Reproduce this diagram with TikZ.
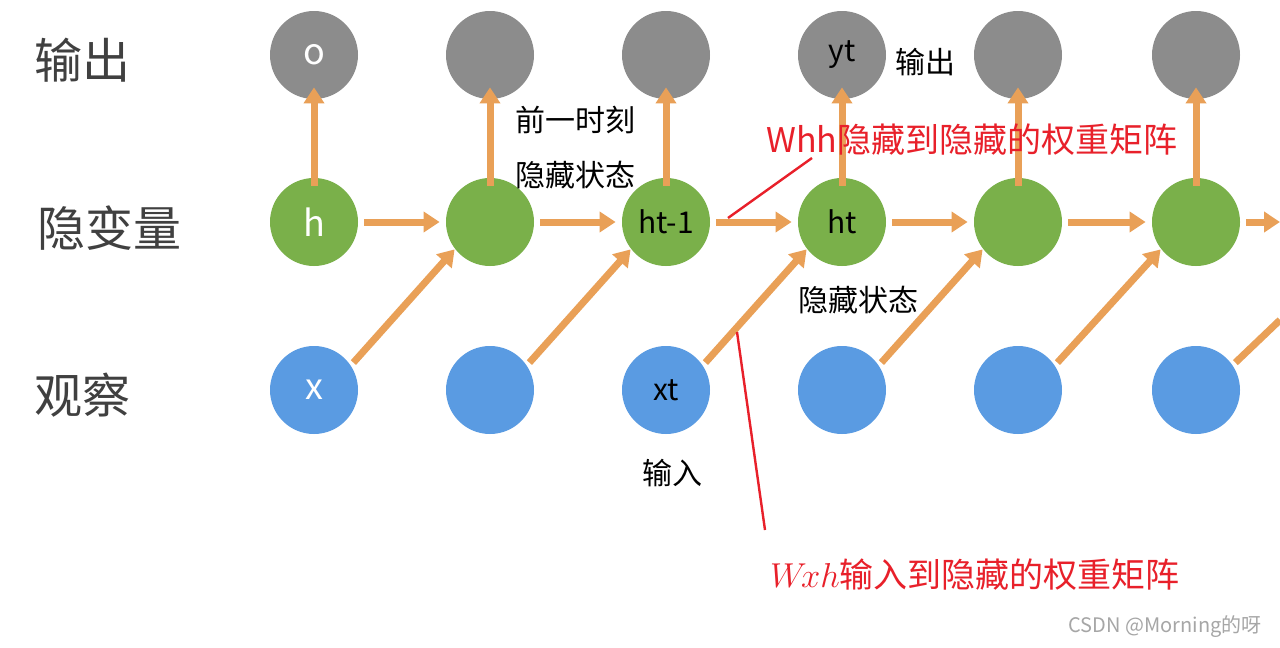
\documentclass[tikz,border=0pt]{standalone}
\usepackage{fontspec}
\setmainfont{Noto Sans CJK SC}
\usetikzlibrary{arrows.meta}
\definecolor{outgray}{HTML}{8C8C8C}
\definecolor{hidgreen}{HTML}{7AB04A}
\definecolor{obsblue}{HTML}{5A9BE2}
\definecolor{arrorange}{HTML}{E9A057}
\definecolor{notered}{HTML}{E8202A}
\begin{document}
\begin{tikzpicture}[x=0.5pt,y=-0.5pt,
  unit/.style={circle,minimum size=44pt,inner sep=0pt,font=\fontsize{17}{20}\selectfont},
  outunit/.style={unit,fill=outgray},
  hidunit/.style={unit,fill=hidgreen},
  obsunit/.style={unit,fill=obsblue},
  flow/.style={arrorange,line width=3.5pt,-{Triangle[length=8pt,width=10pt]}},
  rowlabel/.style={text=black!75,font=\fontsize{24}{28}\selectfont},
  note/.style={font=\fontsize{15}{18}\selectfont},
  rednote/.style={text=notered,font=\fontsize{17}{20}\selectfont},
  redline/.style={notered,line width=1.2pt}]
\useasboundingbox (0,0) rectangle (1280,648);
\fill[white] (0,0) rectangle (1280,648);
%%% row labels %%%
\node[rowlabel] (lo) at (82,60) {输出};
\node[rowlabel] (lh) at (110,228) {隐变量};
\node[rowlabel] (lx) at (82,395) {观察};
%%% units %%%
\foreach \i/\x in {1/314,2/490,3/666,4/842,5/1018,6/1196}{
  \node[outunit] (o\i) at (\x,55) {};
  \node[hidunit] (h\i) at (\x,222) {};
  \node[obsunit] (x\i) at (\x,390) {};
}
\node[white,font=\fontsize{18}{20}\selectfont] at (o1) {o};
\node[white,font=\fontsize{18}{20}\selectfont] at (h1) {h};
\node[white,font=\fontsize{18}{20}\selectfont] at (x1) {x};
\node[note] at (o4) {yt};
\node[note] at (h3) {ht-1};
\node[note] at (h4) {ht};
\node[note] at (x3) {xt};
%%% connectors %%%
\foreach \i in {1,...,6}{
  \draw[flow] ([yshift=-4pt]h\i.north) -- ([yshift=6pt]o\i.south);
}
\foreach \i/\j in {1/2,2/3,3/4,4/5,5/6}{
  \draw[flow] ([xshift=3pt]h\i.east) -- ([xshift=-3pt]h\j.west);
  \draw[flow] ([shift={(4pt,-2pt)}]x\i.north east) -- ([shift={(-2pt,2pt)}]h\j.south west);
}
\coordinate (hend) at (1280,222);
\coordinate (xend) at (1280,320);
\draw[flow] ([xshift=3pt]h6.east) -- (hend);
\draw[arrorange,line width=3.5pt] ([shift={(4pt,-2pt)}]x6.north east) -- (xend);
%%% notes %%%
\node[note] (prev1) at (575,120) {前一时刻};
\node[note] (prev2) at (575,175) {隐藏状态};
\node[note] (outn) at (925,62) {输出};
\node[note] (hidn) at (858,300) {隐藏状态};
\node[note] (inn) at (672,473) {输入};
\node[rednote] (whh) at (972,140) {Whh隐藏到隐藏的权重矩阵};
\node[rednote] (wxh) at (975,575) {$W\!xh$输入到隐藏的权重矩阵};
\coordinate (a1) at (728,218);
\coordinate (a2) at (812,158);
\coordinate (b1) at (737,332);
\coordinate (b2) at (765,530);
\draw[redline] (a1) -- (a2);
\draw[redline] (b1) -- (b2);
\node[text=black!35,font=\fontsize{10}{12}\selectfont] (mark) at (1165,627) {CSDN @Morning的呀};
\end{tikzpicture}
\end{document}
